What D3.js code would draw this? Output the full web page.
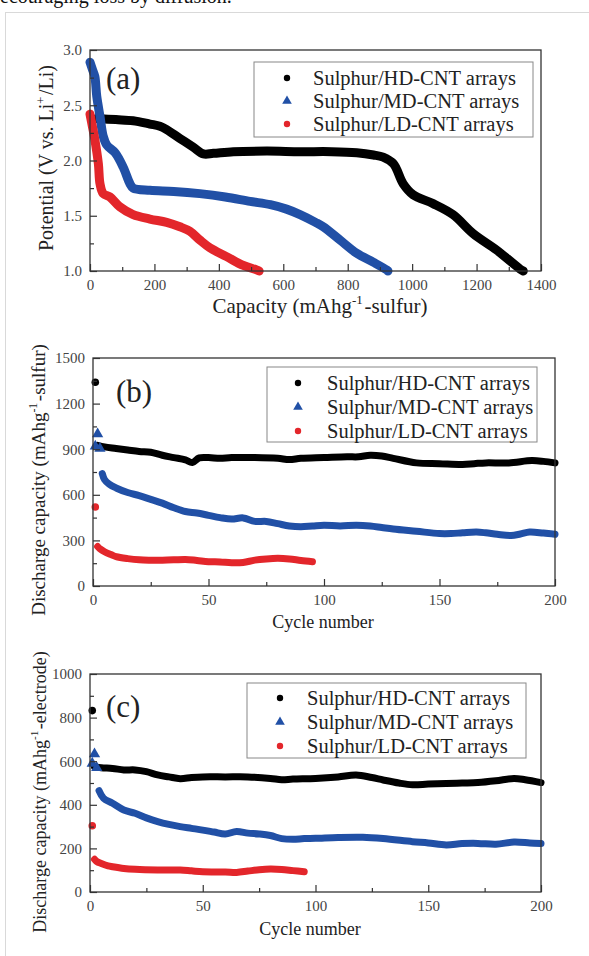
<!DOCTYPE html>
<html><head><meta charset="utf-8">
<script src="https://cdn.jsdelivr.net/npm/d3@7/dist/d3.min.js"></script>
<style>html,body{margin:0;padding:0;background:#fff;}svg{display:block;}</style>
</head><body>
<svg id="c" width="589" height="956"></svg>
<script>
// ---------- DATA ----------
const seriesNames = ["Sulphur/HD-CNT arrays", "Sulphur/MD-CNT arrays", "Sulphur/LD-CNT arrays"];
// (a) capacity (mAh/g) vs potential (V)
const aHD = [[21,2.38],[80,2.37],[134,2.36],[186,2.33],[217,2.31],[238,2.28],[279,2.20],[321,2.12],[352,2.06],[383,2.065],[445,2.08],[550,2.085],[652,2.08],[750,2.08],[828,2.07],[880,2.05],[910,2.03],[942,1.97],[972,1.79],[1003,1.69],[1065,1.61],[1127,1.51],[1189,1.34],[1262,1.19],[1334,1.02],[1345,1.0]];
const aMD = [[0,2.89],[8,2.82],[15,2.76],[21,2.58],[31,2.40],[41,2.22],[52,2.14],[78,2.07],[103,1.94],[124,1.79],[134,1.75],[186,1.73],[260,1.72],[341,1.70],[420,1.67],[497,1.63],[560,1.60],[610,1.56],[652,1.51],[700,1.44],[724,1.40],[776,1.28],[828,1.16],[879,1.08],[921,1.01],[925,1.0]];
const aLD = [[0,2.42],[8,2.30],[15,2.19],[26,1.97],[31,1.79],[41,1.70],[62,1.67],[93,1.58],[134,1.51],[186,1.47],[238,1.44],[279,1.40],[310,1.36],[341,1.28],[372,1.21],[424,1.13],[476,1.05],[517,1.01],[525,1.0]];
// (b) cycle vs discharge capacity (mAh/g sulfur)
const bHD = [[1,1340],[2,925],[5,915],[10,905],[15,895],[20,885],[25,880],[30,860],[35,845],[40,830],[43,812],[46,843],[50,845],[55,840],[60,845],[70,845],[80,840],[85,832],[90,840],[100,845],[110,850],[115,850],[120,860],[125,855],[130,840],[140,810],[150,805],[160,800],[165,805],[170,810],[180,810],[190,825],[195,820],[200,810]];
const bMD = [[1,920],[2,1000],[3,905],[4,740],[5,700],[7,670],[10,645],[15,615],[20,595],[25,570],[30,545],[35,515],[40,490],[45,480],[50,465],[55,450],[60,440],[65,448],[70,425],[75,425],[80,410],[85,395],[90,390],[95,395],[100,400],[107,395],[114,400],[120,395],[125,385],[130,375],[140,360],[150,345],[155,345],[160,350],[166,355],[170,350],[175,340],[181,332],[185,342],[189,355],[195,348],[200,340]];
const bLD = [[1,520],[2,260],[3,245],[5,225],[8,205],[10,193],[15,180],[20,172],[25,170],[30,170],[35,172],[40,175],[45,168],[50,160],[55,158],[60,153],[65,155],[70,170],[75,178],[80,182],[85,178],[90,168],[95,160]];
// (c) cycle vs discharge capacity (mAh/g electrode)
const cHD = [[1,832],[2,575],[5,570],[10,567],[15,560],[20,560],[25,552],[30,537],[35,528],[40,520],[45,525],[50,528],[60,528],[70,528],[80,521],[85,515],[90,518],[100,521],[110,528],[118,537],[125,525],[130,514],[137,500],[143,492],[150,495],[158,498],[165,500],[172,502],[180,510],[188,521],[193,515],[200,502]];
const cMD = [[1,590],[2,633],[3,570],[4,465],[6,430],[10,407],[15,376],[20,361],[25,340],[30,323],[35,310],[40,300],[45,292],[50,284],[55,275],[60,266],[65,278],[70,270],[75,266],[80,259],[85,245],[90,242],[95,245],[100,246],[110,250],[121,251],[130,245],[143,231],[150,225],[158,216],[165,222],[172,223],[180,219],[188,229],[195,225],[200,222]];
const cLD = [[1,304],[2,150],[3,140],[5,131],[8,120],[10,116],[15,108],[20,104],[30,101],[40,101],[45,97],[50,93],[60,92],[65,90],[70,96],[75,102],[80,105],[85,103],[90,98],[95,93]];
// isolated first cycles (drawn only as markers) per series: HD, MD, LD
const isolatedCount = [1, 3, 1];
// ticks
const aXTicks = [0,200,400,600,800,1000,1200,1400];
const aYTicks = [1.0,1.5,2.0,2.5,3.0];
const bYTicks = [0,300,600,900,1200,1500];
const cYTicks = [0,200,400,600,800,1000];
const cycTicks = [0,50,100,150,200];

// ---------- DRAW ----------
const colors = ["#000000", "#2150a6", "#e3262b"];
const serif = "Liberation Serif, Times New Roman, serif";
const svg = d3.select("#c");
svg.append("rect").attr("width",589).attr("height",956).attr("fill","#fff");
svg.append("rect").attr("x",5.5).attr("y",12.5).attr("width",620).attr("height",980)
  .attr("fill","none").attr("stroke","#d9d9d9").attr("stroke-width",1);
svg.append("text").attr("x",0).attr("y",3).style("font-family",serif).attr("font-size",20)
  .attr("fill","#111").text("ecouraging loss by diffusion.");

function supText(sel, parts) {
  parts.forEach(p => {
    if (p.sup) {
      sel.append("tspan").attr("dy", -p.size*0.42).attr("font-size", p.size*0.62).text(p.t);
      sel.append("tspan").attr("dy", p.size*0.42).text("\u200A");
    } else sel.append("tspan").text(p.t);
  });
}

function panel(o) {
  const g = svg.append("g");
  const x = d3.scaleLinear().domain(o.xd).range([o.l, o.r]);
  const y = d3.scaleLinear().domain(o.yd).range([o.b, o.t]);
  // series
  o.series.forEach((s, i) => {
    const data = s;
    const iso = o.iso ? o.iso[i] : 0;
    const lineData = data.slice(iso);
    g.append("path").datum(lineData)
      .attr("d", d3.line().x(d => x(d[0])).y(d => y(d[1])).curve(d3.curveCatmullRom.alpha(0.5)))
      .attr("fill","none").attr("stroke",colors[i]).attr("stroke-width",o.lw)
      .attr("stroke-linecap","round").attr("stroke-linejoin","round");
    if (o.iso) {
      const sym = i === 1 ? d3.symbolTriangle : d3.symbolCircle;
      g.selectAll(null).data(data.slice(0, iso)).enter().append("path")
        .attr("transform", d => `translate(${x(d[0])},${y(d[1])})`)
        .attr("d", d3.symbol().type(sym).size(i === 1 ? 55 : 45))
        .attr("fill", colors[i]);
    }
  });
  // frame
  g.append("rect").attr("x",o.l).attr("y",o.t).attr("width",o.r-o.l).attr("height",o.b-o.t)
    .attr("fill","none").attr("stroke","#333").attr("stroke-width",1.3);
  // axes ticks (inward)
  const xa = g.append("g").attr("transform",`translate(0,${o.b})`)
    .call(d3.axisBottom(x).tickValues(o.xt).tickSizeInner(-7).tickSizeOuter(0).tickPadding(8).tickFormat(o.xf || d3.format("d")));
  const xm = g.append("g").attr("transform",`translate(0,${o.b})`)
    .call(d3.axisBottom(x).tickValues(o.xminor).tickSize(-4).tickFormat(""));
  const ya = g.append("g").attr("transform",`translate(${o.l},0)`)
    .call(d3.axisLeft(y).tickValues(o.yt).tickSizeInner(-7).tickSizeOuter(0).tickPadding(8).tickFormat(o.yf || d3.format("d")));
  const ym = g.append("g").attr("transform",`translate(${o.l},0)`)
    .call(d3.axisLeft(y).tickValues(o.yminor).tickSize(-4).tickFormat(""));
  [xa, xm, ya, ym].forEach(a => {
    a.attr("font-family", null).attr("font-size", null);
    a.select(".domain").remove();
    a.selectAll("line").attr("stroke","#333").attr("stroke-width",1.2);
    a.selectAll("text").style("font-family",serif).attr("font-size",15).attr("fill","#444");
  });
  // panel letter
  g.append("text").attr("x",o.lx).attr("y",o.ly).style("font-family",serif).attr("font-size",31)
    .attr("fill","#222").text(o.letter);
  // axis titles
  const xt = g.append("text").attr("x",o.xlx).attr("y",o.xly).attr("text-anchor","middle")
    .style("font-family",serif).attr("font-size",o.xls).attr("fill","#222");
  supText(xt, o.xlab);
  const yt = g.append("text").attr("transform",`translate(${o.ylx},${o.yly}) rotate(-90)`).attr("text-anchor","middle")
    .style("font-family",serif).attr("font-size",o.yls).attr("fill","#222");
  supText(yt, o.ylab);
  // legend
  const L = o.leg;
  g.append("rect").attr("x",L.x).attr("y",L.y).attr("width",L.w).attr("height",L.h)
    .attr("fill","#fff").attr("stroke","#888").attr("stroke-width",1);
  seriesNames.forEach((n, i) => {
    const yy = L.rows[i];
    g.append("path").attr("transform",`translate(${L.sx},${yy})`)
      .attr("d", d3.symbol().type(i === 1 ? d3.symbolTriangle : d3.symbolCircle).size(i === 1 ? 40 : 32))
      .attr("fill", colors[i]);
    g.append("text").attr("x",L.tx).attr("y",yy+7).style("font-family",serif).attr("font-size",L.fs)
      .attr("fill","#222").text(n);
  });
}

panel({
  l:90, r:541, t:50, b:271, xd:[0,1400], yd:[1,3],
  xt:aXTicks, xminor:d3.range(100,1400,200), yt:aYTicks, yminor:[1.25,1.75,2.25,2.75],
  yf:d3.format(".1f"), series:[aHD,aMD,aLD], lw:9,
  letter:"(a)", lx:106, ly:89,
  xlab:[{t:"Capacity (mAhg"},{t:"-1",sup:true,size:21},{t:"-sulfur)"}], xlx:320, xly:313, xls:21,
  ylab:[{t:"Potential (V vs. Li"},{t:"+",sup:true,size:20},{t:"/Li)"}], ylx:53, yly:158, yls:20,
  leg:{x:254,y:62,w:279,h:75,rows:[78,101,124],sx:287,tx:313,fs:20.5}
});

panel({
  l:93, r:555, t:358, b:586, xd:[0,200], yd:[0,1500],
  xt:cycTicks, xminor:[25,75,125,175], yt:bYTicks, yminor:[150,450,750,1050,1350],
  series:[bHD,bMD,bLD], lw:7, iso:isolatedCount,
  letter:"(b)", lx:116, ly:402,
  xlab:[{t:"Cycle number"}], xlx:323, xly:628, xls:18,
  ylab:[{t:"Discharge capacity (mAhg"},{t:"-1",sup:true,size:19},{t:"-sulfur)"}], ylx:45, yly:480, yls:19,
  leg:{x:267,y:367,w:270,h:75,rows:[383,407,431],sx:298,tx:327,fs:20.5}
});

panel({
  l:90, r:541, t:674, b:892, xd:[0,200], yd:[0,1000],
  xt:cycTicks, xminor:[25,75,125,175], yt:cYTicks, yminor:[100,300,500,700,900],
  series:[cHD,cMD,cLD], lw:7, iso:isolatedCount,
  letter:"(c)", lx:106, ly:717,
  xlab:[{t:"Cycle number"}], xlx:310, xly:935, xls:18,
  ylab:[{t:"Discharge capacity (mAhg"},{t:"-1",sup:true,size:18},{t:"-electrode)"}], ylx:46, yly:792, yls:18,
  leg:{x:247,y:683,w:279,h:75,rows:[698,722,746],sx:280,tx:307,fs:20.5}
});
</script>
</body></html>
